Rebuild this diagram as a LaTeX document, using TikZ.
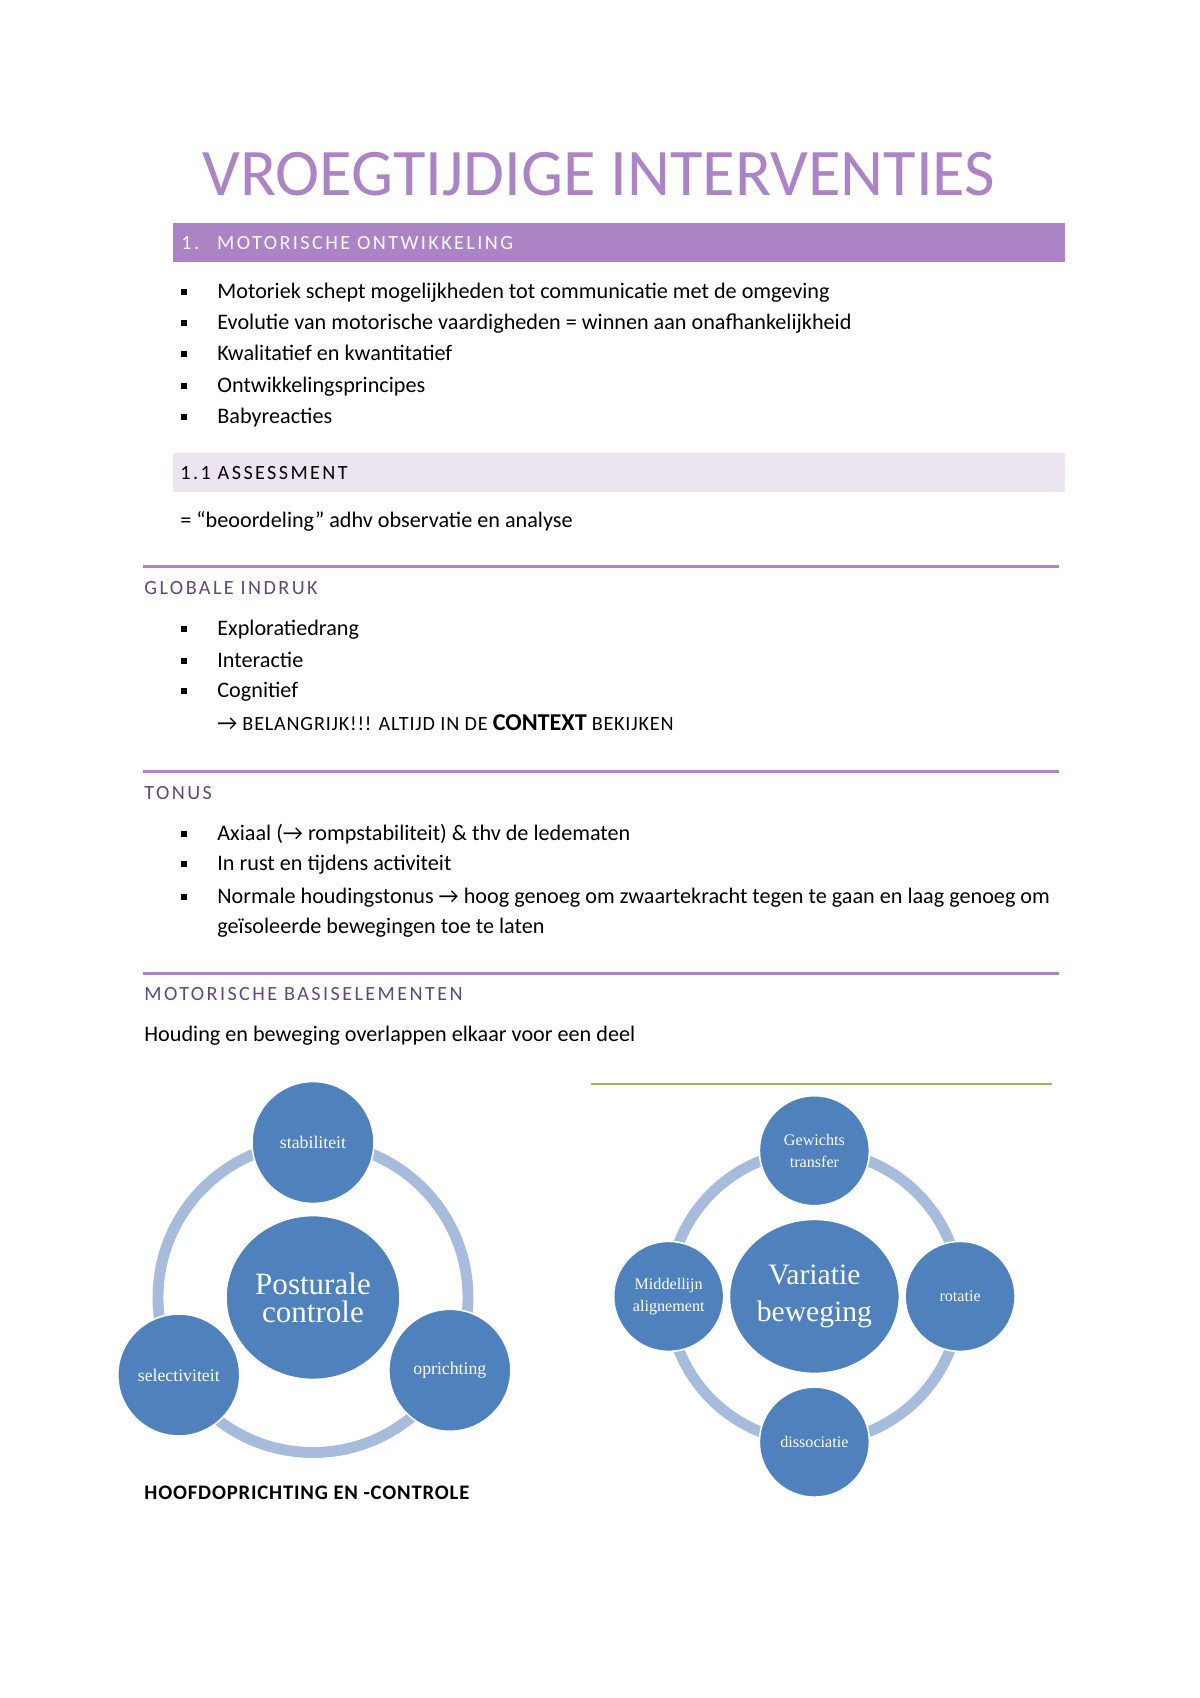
\documentclass[tikz,border=0pt]{standalone}
\usepackage{fontspec}
\setmainfont{Carlito}
\newfontfamily\spacedfont[LetterSpace=12]{Carlito}
\newfontfamily\capsfont[LetterSpace=4]{Carlito}
\newfontfamily\diagfont{Liberation Serif}
\usetikzlibrary{shapes.geometric}
\definecolor{barpurple}{RGB}{172,132,198}
\definecolor{palepurple}{RGB}{237,228,242}
\definecolor{headpurple}{RGB}{96,73,122}
\definecolor{nodeblue}{RGB}{79,129,189}
\definecolor{ringblue}{RGB}{167,188,220}
\definecolor{linegreen}{RGB}{155,187,89}
\tikzstyle{bodytext} = [anchor=mid west, inner sep=0pt, font=\fontsize{11}{13}\selectfont]
\tikzstyle{bulletsq} = [rectangle, fill=black, minimum size=2.6pt, inner sep=0pt]
\tikzstyle{barhead} = [anchor=mid west, inner sep=0pt, font=\spacedfont\fontsize{10}{12}\selectfont]
\tikzstyle{subhead} = [anchor=mid west, inner sep=0pt, text=headpurple, font=\spacedfont\fontsize{10}{12}\selectfont]
\tikzstyle{rulerline} = [line width=1.5pt, draw=barpurple]
\tikzstyle{ring} = [line width=5.4pt, draw=ringblue]
\tikzstyle{hub} = [ellipse, fill=nodeblue, draw=white, line width=0.8pt, text=white, inner sep=0pt, align=center]
\tikzstyle{satellite} = [circle, fill=nodeblue, draw=white, line width=0.8pt, text=white, inner sep=0pt, align=center]

\begin{document}
\begin{tikzpicture}[x=0.496pt, y=-0.496pt]
  \useasboundingbox (0,0) rectangle (1200,1698);
  \fill[white] (0,0) rectangle (1200,1698);

  \node (title) [anchor=base, inner sep=0pt, text=barpurple, font=\fontsize{33}{38}\selectfont] at (599,195) {VROEGTIJDIGE INTERVENTIES};

  \fill[barpurple] (173,223) rectangle (1065,262);
  \node (h1) [barhead, text=white] at (181,245) {1.\hspace{0.9em}MOTORISCHE ONTWIKKELING};

  \node (b1) [bulletsq] at (184,292) {};
  \node (t1) [bodytext] at (217,293.5) {Motoriek schept mogelijkheden tot communicatie met de omgeving};
  \node (b2) [bulletsq] at (184,323) {};
  \node (t2) [bodytext] at (217,324.5) {Evolutie van motorische vaardigheden = winnen aan onafhankelijkheid};
  \node (b3) [bulletsq] at (184,354) {};
  \node (t3) [bodytext] at (217,355.5) {Kwalitatief en kwantitatief};
  \node (b4) [bulletsq] at (184,386) {};
  \node (t4) [bodytext] at (217,387.5) {Ontwikkelingsprincipes};
  \node (b5) [bulletsq] at (184,417) {};
  \node (t5) [bodytext] at (217,418.5) {Babyreacties};

  \fill[palepurple] (173,453) rectangle (1065,492);
  \node (h11) [barhead] at (180,474.5) {1.1 ASSESSMENT};
  \node (t6) [bodytext] at (180,523) {= “beoordeling” adhv observatie en analyse};

  \draw[rulerline] (143,566) -- (1059,566);
  \node (h2) [subhead] at (144,589.5) {GLOBALE INDRUK};
  \node (b7) [bulletsq] at (184,629) {};
  \node (t7) [bodytext] at (217,631) {Exploratiedrang};
  \node (b8) [bulletsq] at (184,661) {};
  \node (t8) [bodytext] at (217,663) {Interactie};
  \node (b9) [bulletsq] at (184,691) {};
  \node (t9) [bodytext] at (217,693) {Cognitief};
  \node (t10) [bodytext] at (217,726) {→ {\capsfont\fontsize{10}{12}\selectfont BELANGRIJK!!! ALTIJD IN DE} {\fontsize{12}{14}\selectfont\bfseries CONTEXT} {\capsfont\fontsize{10}{12}\selectfont BEKIJKEN}};

  \draw[rulerline] (143,771) -- (1059,771);
  \node (h3) [subhead] at (144,795) {TONUS};
  \node (b11) [bulletsq] at (184,834) {};
  \node (t11) [bodytext] at (217,836) {Axiaal (→ rompstabiliteit) \& thv de ledematen};
  \node (b12) [bulletsq] at (184,864) {};
  \node (t12) [bodytext] at (217,866) {In rust en tijdens activiteit};
  \node (b13) [bulletsq] at (184,897) {};
  \node (t13) [bodytext] at (217,899) {Normale houdingstonus → hoog genoeg om zwaartekracht tegen te gaan en laag genoeg om};
  \node (t14) [bodytext] at (217,929) {geïsoleerde bewegingen toe te laten};

  \draw[rulerline] (143,973) -- (1059,973);
  \node (h4) [subhead] at (144,995.5) {MOTORISCHE BASISELEMENTEN};
  \node (t15) [bodytext] at (144,1037) {Houding en beweging overlappen elkaar voor een deel};

  \node (pc) [hub, minimum width=86.3pt, minimum height=81.3pt, font=\diagfont\fontsize{15.4}{14}\selectfont] at (313,1297.5) {Posturale\\controle};
  \draw[ring] (pc.center) circle[radius=155];
  \node (stab) [satellite, minimum size=60.5pt, font=\diagfont\fontsize{8.8}{10.8}\selectfont] at ([shift={(270:155)}]pc.center) {stabiliteit};
  \node (opr) [satellite, minimum size=60.5pt, font=\diagfont\fontsize{8.8}{10.8}\selectfont] at ([shift={(28:155)}]pc.center) {oprichting};
  \node (sel) [satellite, minimum size=60.5pt, font=\diagfont\fontsize{8.8}{10.8}\selectfont] at ([shift={(150:155)}]pc.center) {selectiviteit};
  \node (cap) [anchor=mid west, inner sep=0pt, font=\capsfont\fontsize{10.25}{12}\selectfont\bfseries] at (144,1495) {HOOFDOPRICHTING EN -CONTROLE};

  \draw[line width=0.6pt, draw=linegreen] (591,1084) -- (1052,1084);
  \node (vb) [hub, minimum width=84.3pt, minimum height=76.4pt, font=\diagfont\fontsize{14.7}{18.8}\selectfont] at (814.4,1296.4) {Variatie\\beweging};
  \draw[ring] (vb.center) circle[radius=145.7];
  \node (gew) [satellite, minimum size=54.6pt, font=\diagfont\fontsize{8}{10.8}\selectfont] at ([shift={(270:145.7)}]vb.center) {Gewichts\\transfer};
  \node (rot) [satellite, minimum size=54.6pt, font=\diagfont\fontsize{8}{10.8}\selectfont] at ([shift={(0:145.7)}]vb.center) {rotatie};
  \node (dis) [satellite, minimum size=54.6pt, font=\diagfont\fontsize{8}{10.8}\selectfont] at ([shift={(90:145.7)}]vb.center) {dissociatie};
  \node (mid) [satellite, minimum size=54.6pt, font=\diagfont\fontsize{8}{10.8}\selectfont] at ([shift={(180:145.7)}]vb.center) {Middellijn\\alignement};
\end{tikzpicture}
\end{document}
